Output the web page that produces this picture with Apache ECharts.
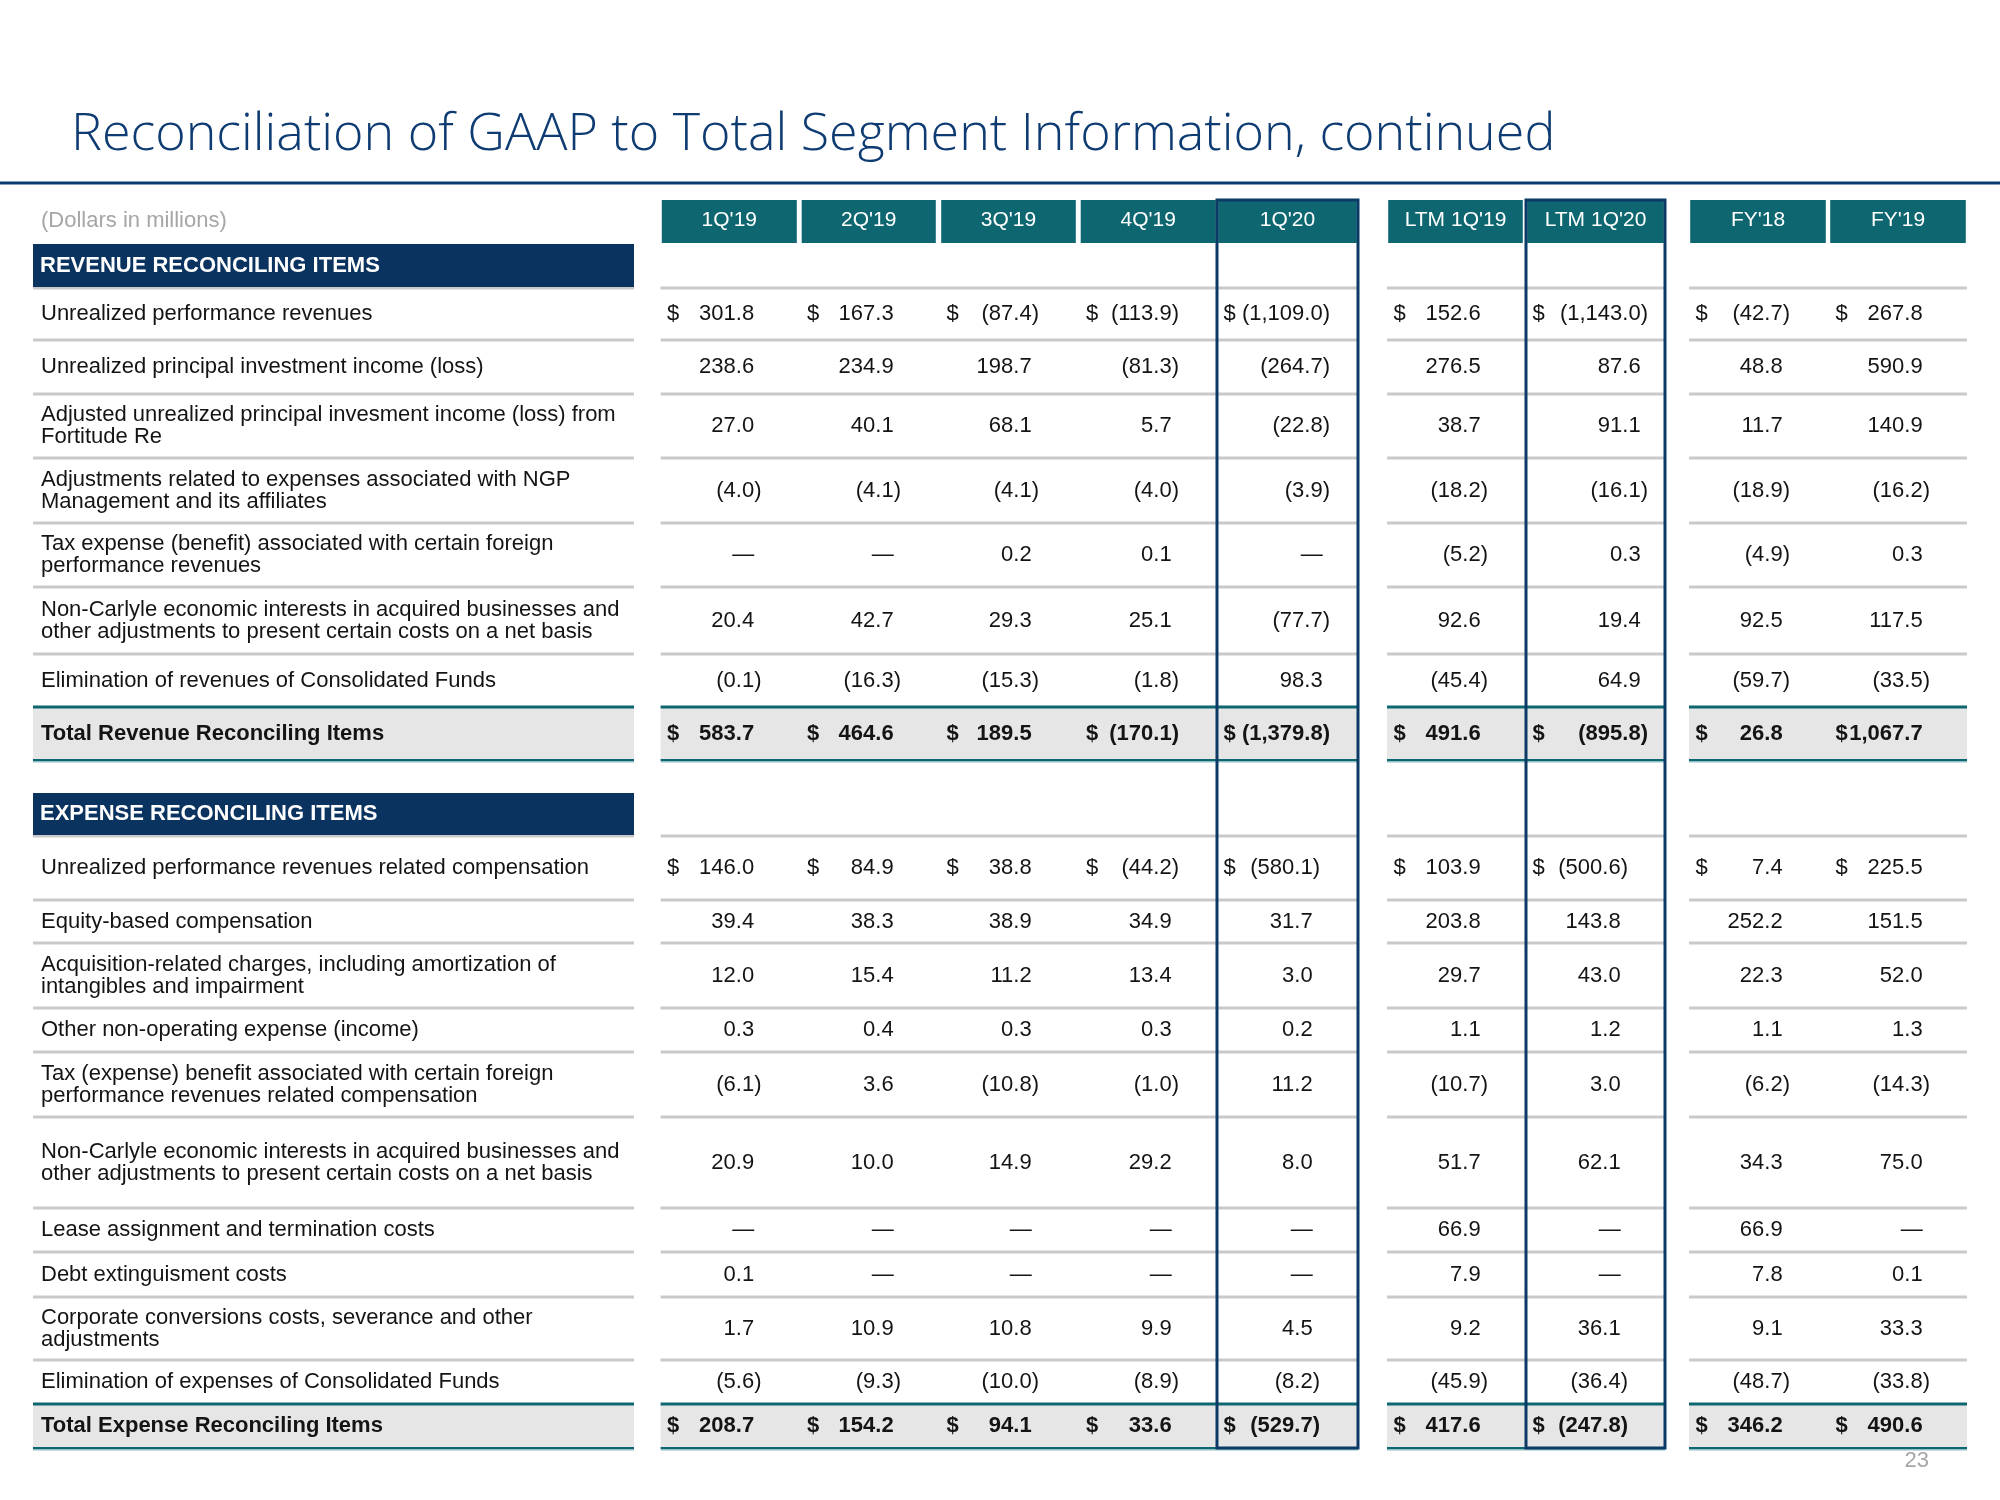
<!DOCTYPE html>
<html>
<head>
<meta charset="utf-8">
<script src="https://cdn.jsdelivr.net/npm/echarts@6/dist/echarts.min.js"></script>
<style>html,body{margin:0;padding:0;background:#fff;}#chart{width:2000px;height:1500px;}</style>
</head>
<body>
<div id="chart"></div>
<script>
// ---------------- DATA ----------------
const pageTitle = "Reconciliation of GAAP to Total Segment Information, continued";
const unitNote = "(Dollars in millions)";
const pageNumber = "23";
const columns = ["1Q'19", "2Q'19", "3Q'19", "4Q'19", "1Q'20", "LTM 1Q'19", "LTM 1Q'20", "FY'18", "FY'19"];

const revenueTitle = "REVENUE RECONCILING ITEMS";
const revenueLabels = [
  "Unrealized performance revenues",
  "Unrealized principal investment income (loss)",
  "Adjusted unrealized principal invesment income (loss) from\nFortitude Re",
  "Adjustments related to expenses associated with NGP\nManagement and its affiliates",
  "Tax expense (benefit) associated with certain foreign\nperformance revenues",
  "Non-Carlyle economic interests in acquired businesses and\nother adjustments to present certain costs on a net basis",
  "Elimination of revenues of Consolidated Funds"
];
const revUnrealizedPerf   = [301.8, 167.3, -87.4, -113.9, -1109.0, 152.6, -1143.0, -42.7, 267.8];
const revPrincipalInv     = [238.6, 234.9, 198.7, -81.3, -264.7, 276.5, 87.6, 48.8, 590.9];
const revFortitude        = [27.0, 40.1, 68.1, 5.7, -22.8, 38.7, 91.1, 11.7, 140.9];
const revNGP              = [-4.0, -4.1, -4.1, -4.0, -3.9, -18.2, -16.1, -18.9, -16.2];
const revTaxForeign       = [null, null, 0.2, 0.1, null, -5.2, 0.3, -4.9, 0.3];
const revNonCarlyle       = [20.4, 42.7, 29.3, 25.1, -77.7, 92.6, 19.4, 92.5, 117.5];
const revElimination      = [-0.1, -16.3, -15.3, -1.8, 98.3, -45.4, 64.9, -59.7, -33.5];
const revenueTotalLabel = "Total Revenue Reconciling Items";
const revenueTotal        = [583.7, 464.6, 189.5, -170.1, -1379.8, 491.6, -895.8, 26.8, 1067.7];

const expenseTitle = "EXPENSE RECONCILING ITEMS";
const expenseLabels = [
  "Unrealized performance revenues related compensation",
  "Equity-based compensation",
  "Acquisition-related charges, including amortization of\nintangibles and impairment",
  "Other non-operating expense (income)",
  "Tax (expense) benefit associated with certain foreign\nperformance revenues related compensation",
  "Non-Carlyle economic interests in acquired businesses and\nother adjustments to present certain costs on a net basis",
  "Lease assignment and termination costs",
  "Debt extinguisment costs",
  "Corporate conversions costs, severance and other\nadjustments",
  "Elimination of expenses of Consolidated Funds"
];
const expUnrealizedComp   = [146.0, 84.9, 38.8, -44.2, -580.1, 103.9, -500.6, 7.4, 225.5];
const expEquityComp       = [39.4, 38.3, 38.9, 34.9, 31.7, 203.8, 143.8, 252.2, 151.5];
const expAcquisition      = [12.0, 15.4, 11.2, 13.4, 3.0, 29.7, 43.0, 22.3, 52.0];
const expOtherNonOp       = [0.3, 0.4, 0.3, 0.3, 0.2, 1.1, 1.2, 1.1, 1.3];
const expTaxForeign       = [-6.1, 3.6, -10.8, -1.0, 11.2, -10.7, 3.0, -6.2, -14.3];
const expNonCarlyle       = [20.9, 10.0, 14.9, 29.2, 8.0, 51.7, 62.1, 34.3, 75.0];
const expLease            = [null, null, null, null, null, 66.9, null, 66.9, null];
const expDebt             = [0.1, null, null, null, null, 7.9, null, 7.8, 0.1];
const expCorporate        = [1.7, 10.9, 10.8, 9.9, 4.5, 9.2, 36.1, 9.1, 33.3];
const expElimination      = [-5.6, -9.3, -10.0, -8.9, -8.2, -45.9, -36.4, -48.7, -33.8];
const expenseTotalLabel = "Total Expense Reconciling Items";
const expenseTotal        = [208.7, 154.2, 94.1, 33.6, -529.7, 417.6, -247.8, 346.2, 490.6];

const highlightedColumns = [4, 6];

// ---------------- LAYOUT (table geometry, in table units) ----------------
const rowHeights = [43,45,52,54,64,65,64,67,53,53,32,44,64,43,65,44,65,91,44,45,63,44,44];
const labelW = 601, labelPad = 8;
const colL = [627.6, 767.5, 907, 1046.5, 1184, 1354, 1493, 1656, 1796];
const colR = [765, 904, 1044, 1184, 1325, 1491, 1632, 1794, 1934];
const groupSpans = [[0, 601], [627.6, 1325], [1354, 1632], [1656, 1934]];
const padRev = [36.5, 36, 38, 38, 28, 36, 17, 37, 37];
const padExp = [36.5, 36, 38, 38, 38, 36, 37, 37, 37];
const TABLE_W = 1934, TABLE_H = rowHeights.reduce((a, b) => a + b, 0);

const FONT = "'Liberation Sans', Arial, sans-serif";
const INK = '#141414', TEAL = '#0D6670', NAVY = '#0B3360', GRID = '#C9C9C9', BOX = '#0B3A66';

// ---------------- TABLE MODEL ----------------
const revValues = [revUnrealizedPerf, revPrincipalInv, revFortitude, revNGP, revTaxForeign, revNonCarlyle, revElimination];
const expValues = [expUnrealizedComp, expEquityComp, expAcquisition, expOtherNonOp, expTaxForeign, expNonCarlyle, expLease, expDebt, expCorporate, expElimination];

const tableRows = [{kind: 'header'}, {kind: 'section', label: revenueTitle}];
revenueLabels.forEach((l, k) => tableRows.push({kind: 'item', label: l, values: revValues[k], dollar: k === 0, sec: 'rev', line: k < revenueLabels.length - 1}));
tableRows.push({kind: 'total', label: revenueTotalLabel, values: revenueTotal, dollar: true, sec: 'rev'});
tableRows.push({kind: 'gap'});
tableRows.push({kind: 'section', label: expenseTitle});
expenseLabels.forEach((l, k) => tableRows.push({kind: 'item', label: l, values: expValues[k], dollar: k === 0, sec: 'exp', line: k < expenseLabels.length - 1}));
tableRows.push({kind: 'total', label: expenseTotalLabel, values: expenseTotal, dollar: true, sec: 'exp'});

const rowTop = [];
rowHeights.reduce((acc, h, i) => { rowTop[i] = acc; return acc + h; }, 0);

function fmt(v) {
  return Math.abs(v).toLocaleString('en-US', {minimumFractionDigits: 1, maximumFractionDigits: 1});
}

function renderRow(params, api) {
  const i = api.value(2);
  const row = tableRows[i];
  const X = v => api.coord([v, 0])[0];
  const Y = v => api.coord([0, v])[1];
  const yT = Y(rowTop[i]), yB = Y(rowTop[i] + rowHeights[i]), yM = (yT + yB) / 2;
  const ch = [];
  const rect = (x0, x1, y0, y1, fill) => ch.push({type: 'rect', shape: {x: x0, y: y0, width: x1 - x0, height: y1 - y0}, style: {fill: fill}});
  const text = (x, y, s, o) => ch.push({type: 'text', x: x, y: y, style: Object.assign({text: s, fill: INK, fontSize: 22, fontFamily: FONT, align: 'left', verticalAlign: 'middle', lineHeight: 22}, o || {})});

  if (row.kind === 'header') {
    text(X(labelPad), yM - 1, unitNote, {fill: '#A6A6A6'});
    columns.forEach((c, k) => {
      rect(X(colL[k]) + 1.2, X(colR[k]) - 1.2, yT, yB, TEAL);
      text((X(colL[k]) + X(colR[k])) / 2, yM - 1, c, {fill: '#ffffff', align: 'center', fontSize: 21});
    });
  } else if (row.kind === 'section') {
    groupSpans.forEach(g => rect(X(g[0]), X(g[1]), yB - 1.5, yB + 1.5, GRID));
    rect(X(0), X(labelW), yT + 1, yB - 1, NAVY);
    text(X(7), yM, row.label, {fill: '#ffffff', fontWeight: 'bold', fontSize: 22});
  } else if (row.kind === 'item' || row.kind === 'total') {
    const bold = row.kind === 'total';
    if (bold) {
      groupSpans.forEach(g => {
        rect(X(g[0]), X(g[1]), yT, yB, '#E6E6E6');
        rect(X(g[0]), X(g[1]), yT - 1.5, yT + 1.5, TEAL);
        rect(X(g[0]), X(g[1]), yB - 1, yB + 1, TEAL);
        rect(X(g[0]), X(g[1]), yB + 1, yB + 2.5, '#8FBFC4');
      });
    } else if (row.line) {
      groupSpans.forEach(g => rect(X(g[0]), X(g[1]), yB - 1.5, yB + 1.5, GRID));
    }
    const fw = bold ? 'bold' : 'normal';
    text(X(labelPad), yM, row.label, {fontWeight: fw});
    const pads = row.sec === 'rev' ? padRev : padExp;
    const parenW = 0.333 * 22;
    row.values.forEach((v, k) => {
      const R = X(colR[k] - pads[k]);
      if (row.dollar) text(X(colL[k] + 6.5), yM, '$', {fontWeight: fw});
      if (v === null) text(R - parenW, yM, '\u2014', {align: 'right', fontWeight: fw});
      else if (v < 0) text(R, yM, '(' + fmt(v) + ')', {align: 'right', fontWeight: fw});
      else text(R - parenW, yM, fmt(v), {align: 'right', fontWeight: fw});
    });
  }
  return {type: 'group', children: ch};
}

function renderBox(params, api) {
  const c = api.value(2);
  const p0 = api.coord([colL[c], 0]);
  const p1 = api.coord([colR[c], TABLE_H]);
  return {type: 'rect', shape: {x: p0[0], y: p0[1], width: p1[0] - p0[0], height: p1[1] - p0[1]},
          style: {fill: 'none', stroke: BOX, lineWidth: 3}};
}

const chart = echarts.init(document.getElementById('chart'), null, {renderer: 'canvas'});
chart.setOption({
  animation: false,
  backgroundColor: '#ffffff',
  grid: {left: 33, top: 200, width: TABLE_W, height: TABLE_H, show: false},
  xAxis: {type: 'value', min: 0, max: TABLE_W, show: false},
  yAxis: {type: 'value', min: 0, max: TABLE_H, inverse: true, show: false},
  graphic: [
    {type: 'text', left: 71, top: 109, style: {text: pageTitle, fill: '#0E3C72', fontSize: 52, fontWeight: 300, fontFamily: "'Open Sans', 'Noto Sans', sans-serif"}},
    {type: 'rect', left: 0, top: 181.5, shape: {width: 2000, height: 3}, style: {fill: '#0B3A6E'}},
    {type: 'text', right: 2000 - 1929, top: 1450, style: {text: pageNumber, fill: '#A6A6A6', fontSize: 22, fontFamily: FONT}}
  ],
  series: [
    {type: 'custom', name: 'table', coordinateSystem: 'cartesian2d', clip: false, silent: true,
     encode: {x: 0, y: 1}, renderItem: renderRow,
     data: tableRows.map((r, i) => [0, rowTop[i], i])},
    {type: 'custom', name: 'highlight', coordinateSystem: 'cartesian2d', clip: false, silent: true, z: 5,
     encode: {x: 0, y: 1}, renderItem: renderBox,
     data: highlightedColumns.map(c => [colL[c], 0, c])}
  ]
});
</script>
</body>
</html>
